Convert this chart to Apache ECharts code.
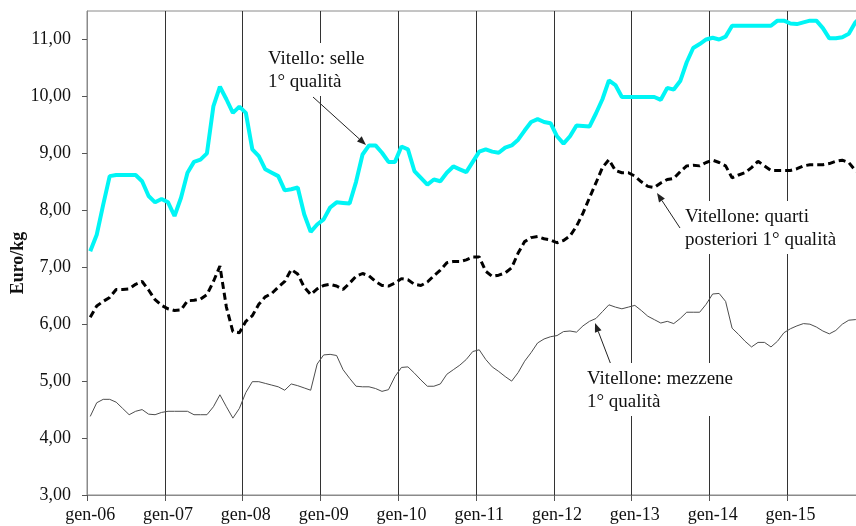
<!DOCTYPE html>
<html>
<head>
<meta charset="utf-8">
<script src="https://cdn.jsdelivr.net/npm/echarts@6/dist/echarts.min.js"></script>
<style>
  html, body { margin: 0; padding: 0; background: #fff; }
  #chart { width: 856px; height: 526px; }
</style>
</head>
<body>
<div id="chart"></div>
<script>
// mesi da gen-06 a dic-15
var mesi = ['gen', 'feb', 'mar', 'apr', 'mag', 'giu', 'lug', 'ago', 'set', 'ott', 'nov', 'dic'];
var anni = ['06', '07', '08', '09', '10', '11', '12', '13', '14', '15'];
var categorie = [];
anni.forEach(function (a) {
  mesi.forEach(function (m) { categorie.push(m + '-' + a); });
});

var yTicks = [3, 4, 5, 6, 7, 8, 9, 10, 11];

// Vitello: selle 1° qualità
var vitelloSelle = [
  7.28, 7.57, 8.10, 8.60, 8.62, 8.62, 8.62, 8.62, 8.51, 8.25, 8.14, 8.20,
  8.14, 7.90, 8.22, 8.66, 8.85, 8.89, 9.00, 9.83, 10.17, 9.95, 9.71, 9.82,
  9.71, 9.07, 8.95, 8.72, 8.66, 8.60, 8.35, 8.37, 8.40, 7.93, 7.62, 7.75,
  7.84, 8.05, 8.14, 8.13, 8.12, 8.50, 8.98, 9.14, 9.14, 9.01, 8.85, 8.85,
  9.12, 9.07, 8.69, 8.57, 8.45, 8.54, 8.51, 8.66, 8.77, 8.72, 8.67, 8.85,
  9.03, 9.07, 9.03, 9.01, 9.10, 9.14, 9.24, 9.40, 9.55, 9.60, 9.55, 9.53,
  9.30, 9.17, 9.30, 9.49, 9.48, 9.47, 9.70, 9.95, 10.28, 10.20, 9.99, 9.99,
  9.99, 9.99, 9.99, 9.99, 9.94, 10.15, 10.12, 10.27, 10.60, 10.85, 10.92, 11.00,
  11.03, 11.00, 11.05, 11.24, 11.24, 11.24, 11.24, 11.24, 11.24, 11.24, 11.33, 11.33,
  11.28, 11.27, 11.30, 11.33, 11.33, 11.20, 11.02, 11.02, 11.04, 11.10, 11.30, 11.40
];

// Vitellone: quarti posteriori 1° qualità
var quartiPosteriori = [
  6.12, 6.32, 6.40, 6.47, 6.61, 6.61, 6.62, 6.70, 6.75, 6.60, 6.43, 6.33,
  6.27, 6.24, 6.25, 6.41, 6.42, 6.44, 6.52, 6.75, 7.02, 6.30, 5.87, 5.85,
  6.05, 6.15, 6.35, 6.48, 6.54, 6.65, 6.75, 6.96, 6.88, 6.65, 6.52, 6.62,
  6.68, 6.70, 6.67, 6.61, 6.72, 6.84, 6.89, 6.85, 6.75, 6.68, 6.67, 6.72,
  6.80, 6.78, 6.70, 6.68, 6.74, 6.85, 6.95, 7.08, 7.10, 7.10, 7.13, 7.18,
  7.18, 6.93, 6.84, 6.86, 6.90, 6.99, 7.25, 7.45, 7.52, 7.54, 7.50, 7.48,
  7.43, 7.47, 7.55, 7.72, 7.95, 8.22, 8.48, 8.75, 8.89, 8.70, 8.66, 8.66,
  8.60, 8.50, 8.42, 8.40, 8.48, 8.54, 8.56, 8.68, 8.78, 8.79, 8.78, 8.84,
  8.88, 8.84, 8.78, 8.57, 8.62, 8.66, 8.75, 8.86, 8.78, 8.70, 8.70, 8.70,
  8.70, 8.73, 8.78, 8.80, 8.80, 8.80, 8.82, 8.86, 8.88, 8.84, 8.70, 8.65
];

// Vitellone: mezzene 1° qualità
var mezzene = [
  4.38, 4.62, 4.68, 4.68, 4.63, 4.52, 4.41, 4.47, 4.50, 4.42, 4.41, 4.45,
  4.47, 4.47, 4.47, 4.47, 4.41, 4.41, 4.41, 4.55, 4.76, 4.55, 4.35, 4.52,
  4.80, 4.99, 4.99, 4.96, 4.93, 4.90, 4.84, 4.95, 4.92, 4.88, 4.84, 5.30,
  5.46, 5.47, 5.45, 5.20, 5.05, 4.91, 4.90, 4.90, 4.87, 4.82, 4.85, 5.08,
  5.24, 5.25, 5.14, 5.02, 4.91, 4.91, 4.95, 5.12, 5.20, 5.28, 5.38, 5.52,
  5.55, 5.38, 5.25, 5.17, 5.08, 5.00, 5.15, 5.35, 5.50, 5.67, 5.74, 5.78,
  5.80, 5.87, 5.88, 5.86, 5.97, 6.05, 6.10, 6.22, 6.34, 6.30, 6.27, 6.30,
  6.33, 6.24, 6.14, 6.08, 6.02, 6.05, 6.01, 6.10, 6.21, 6.21, 6.21, 6.35,
  6.53, 6.54, 6.40, 5.93, 5.82, 5.70, 5.60, 5.68, 5.68, 5.60, 5.70, 5.85,
  5.92, 5.97, 6.01, 6.00, 5.95, 5.88, 5.83, 5.89, 6.00, 6.07, 6.08, 6.10
];

var serif = '"Liberation Serif", "Times New Roman", serif';

// freccia delle etichette: linea + punta
function freccia(x1, y1, x2, y2) {
  var a = Math.atan2(y2 - y1, x2 - x1);
  var l = 9, w = 3.5;
  var bx = x2 - l * Math.cos(a), by = y2 - l * Math.sin(a);
  return {
    type: 'group', z: 20,
    children: [
      { type: 'line', shape: { x1: x1, y1: y1, x2: bx, y2: by }, style: { stroke: '#222', lineWidth: 1 } },
      { type: 'polygon', shape: { points: [
          [x2, y2],
          [bx + w * Math.sin(a), by - w * Math.cos(a)],
          [bx - w * Math.sin(a), by + w * Math.cos(a)]
        ] }, style: { fill: '#222' } }
    ]
  };
}

function etichetta(x, y, testo) {
  return {
    type: 'text', x: x, y: y, z: 15,
    style: {
      text: testo, font: '19px ' + serif, fill: '#111', lineHeight: 23,
      backgroundColor: '#fff', padding: [5, 4, 2, 4]
    }
  };
}

var myChart = echarts.init(document.getElementById('chart'));
var option = {
  animation: false,
  grid: {
    left: 87, top: 11, width: 778, height: 484,
    outerBoundsMode: 'none', containLabel: false,
    show: true, borderColor: '#8a8a8a', borderWidth: 1
  },
  xAxis: {
    type: 'category',
    data: categorie,
    boundaryGap: true,
    axisLine: { lineStyle: { color: '#8a8a8a', width: 1 } },
    axisTick: { show: true, interval: 11, length: 6, lineStyle: { color: '#555' } },
    axisLabel: { interval: 11, margin: 11, color: '#111', fontFamily: serif, fontSize: 18 },
    splitLine: { show: true, interval: 11, lineStyle: { color: '#333', width: 1 } }
  },
  yAxis: {
    type: 'value',
    min: 3,
    max: 11.5,
    interval: 1,
    axisLine: { show: true, lineStyle: { color: '#8a8a8a', width: 1 } },
    axisTick: { show: true, length: 5, customValues: yTicks, lineStyle: { color: '#555' } },
    axisLabel: {
      customValues: yTicks, margin: 16, color: '#111', fontFamily: serif, fontSize: 18,
      formatter: function (v) { return v.toFixed(2).replace('.', ','); }
    },
    splitLine: { show: false }
  },
  series: [
    {
      name: 'Vitellone: mezzene 1° qualità', type: 'line', data: mezzene,
      showSymbol: false, lineStyle: { color: '#4d4d4d', width: 1 }
    },
    {
      name: 'Vitellone: quarti posteriori 1° qualità', type: 'line', data: quartiPosteriori,
      showSymbol: false, lineStyle: { color: '#000', width: 3, type: [7, 4] }
    },
    {
      name: 'Vitello: selle 1° qualità', type: 'line', data: vitelloSelle,
      showSymbol: false, lineStyle: { color: '#00f5f5', width: 4 }
    }
  ],
  graphic: [
    {
      type: 'text', x: 18, y: 263, rotation: Math.PI / 2,
      style: {
        text: 'Euro/kg', font: 'bold 18px ' + serif, fill: '#111',
        align: 'center', verticalAlign: 'middle'
      }
    },
    etichetta(264, 43, 'Vitello: selle\n1° qualità'),
    etichetta(681, 201, 'Vitellone: quarti\nposteriori 1° qualità'),
    etichetta(583, 363, 'Vitellone: mezzene\n1° qualità'),
    freccia(313, 97, 366, 145),
    freccia(680, 228, 657, 193),
    freccia(613, 370, 595, 323)
  ]
};
myChart.setOption(option);
</script>
</body>
</html>
